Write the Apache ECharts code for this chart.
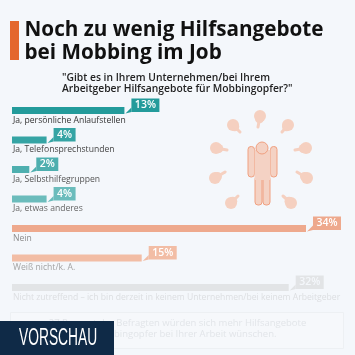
<!DOCTYPE html>
<html><head><meta charset="utf-8">
<style>html,body{margin:0;padding:0;background:#f4f7fb}#c{width:355px;height:355px}</style>
<script src="https://cdn.jsdelivr.net/npm/echarts@6/dist/echarts.min.js"></script>
</head><body><div id="c"></div>
<script>
const categories = ["Ja, persönliche Anlaufstellen","Ja, Telefonsprechstunden","Ja, Selbsthilfegruppen","Ja, etwas anderes","Nein","Weiß nicht/k. A.","Nicht zutreffend – ich bin derzeit in keinem Unternehmen/bei keinem Arbeitgeber"];
const values = [13,4,2,4,34,15,32];
const barColors = ["#239b9b","#35a4a4","#4eafaf","#6bbcbc","#eea98d","#f2bda5","#e2e4e6"];
const labelColors = ["#333333","#444444","#555555","#666666","#8c8c8c","#a3a3a3","#dcdee1"];
const valueTextColors = ["#ffffff","#ffffff","#ffffff","#ffffff","#ffffff","#ffffff","#f4f7fb"];
const titleLines = "Noch zu wenig Hilfsangebote\nbei Mobbing im Job";
const questionLines = '"Gibt es in Ihrem Unternehmen/bei Ihrem\nArbeitgeber Hilfsangebote für Mobbingopfer?"';
const noteLines = "27 Prozent der Befragten würden sich mehr Hilfsangebote\nfür Mobbingopfer bei Ihrer Arbeit wünschen.";
const previewText = "VORSCHAU";
const FONT = '"Open Sans", sans-serif';

const handParts = [[260,116,258,127],[233,125,240,132],[288,125,282,132],[216,148,227,150],[306,148,295,150],[215,178,225,172],[307,178,297,172],[231,203,238,196],[291,203,283,196]];
const graphics = [
  {type:'rect',shape:{x:10,y:21,width:9,height:39},style:{fill:'#e4672e'}},
  {type:'text',x:24.5,y:18.5,style:{text:titleLines,font:'700 20.7px '+FONT,lineHeight:23,fill:'#111'}},
  {type:'text',x:62,y:72.5,style:{text:questionLines,font:'600 10.3px '+FONT,lineHeight:11,fill:'#222'}},
  {type:'rect',shape:{x:10.5,y:312.5,width:333,height:36},style:{fill:'#f6f8fb',stroke:'#edf0f3',lineWidth:1}},
  {type:'text',x:177.5,y:318,style:{text:noteLines,font:'9.5px '+FONT,lineHeight:11,fill:'#e2e5e9',align:'center'}},
  {type:'rect',shape:{x:0,y:321,width:114,height:34},style:{fill:'#0f2a47'}},
  {type:'text',x:19,y:327,scaleX:0.6,style:{text:previewText,font:'23px "Liberation Sans",sans-serif',fill:'#fff'}}
];
handParts.forEach(h=>{
  const dx=h[2]-h[0], dy=h[3]-h[1];
  graphics.push({type:'circle',shape:{cx:h[0],cy:h[1],r:6},style:{fill:'#f5d0c0'}});
  graphics.push({type:'circle',shape:{cx:h[0]+dx*0.25,cy:h[1]+dy*0.25,r:4.5},style:{fill:'#f5d0c0'}});
  graphics.push({type:'line',shape:{x1:h[0],y1:h[1],x2:h[2],y2:h[3]},style:{stroke:'#f5d0c0',lineWidth:3,lineCap:'round'}});
});
const personStyle={fill:'#f4d2c4',stroke:'#f0a080',lineWidth:1};
[[248,146.5,6.5,30.5],[270.5,146.5,6.5,30.5],[255,176,7,29],[263,176,7,29]].forEach(r=>{
  graphics.push({type:'rect',shape:{x:r[0],y:r[1],width:r[2],height:r[3],r:3},style:personStyle});
});
graphics.push({type:'rect',shape:{x:254.5,y:150,width:16,height:30},style:{fill:'#f4d2c4'}});
graphics.push({type:'circle',shape:{cx:262,cy:148,r:6},style:personStyle});

const chart = echarts.init(document.getElementById('c'),null,{renderer:'canvas'});
chart.setOption({
  animation:false,
  backgroundColor:'#f4f7fb',
  graphic:{elements:graphics},
  grid:{left:12,top:95.75,width:294,height:206.5},
  xAxis:{type:'value',min:0,max:34,show:false},
  yAxis:{type:'category',inverse:true,data:categories,show:false},
  series:[
    {type:'bar',barWidth:7,data:values.map((v,i)=>({value:v,itemStyle:{color:barColors[i]}}))},
    {type:'custom',data:values.map((v,i)=>[v,i]),encode:{x:0,y:1},z:5,
     renderItem:(params,api)=>{
       const i=api.value(1), v=api.value(0);
       const p=api.coord([v,i]), o=api.coord([0,i]);
       const w=v>=10?28:22, L=p[0]+7, T=p[1]-12, B=p[1]+1.5;
       const c=barColors[i];
       return {type:'group',children:[
         {type:'rect',shape:{x:L,y:T,width:w,height:B-T},style:{fill:c}},
         {type:'polygon',shape:{points:[[L,p[1]-3],[L,B],[p[0]+1,p[1]+3]]},style:{fill:c}},
         {type:'text',x:L+w/2,y:(T+B)/2,style:{text:v+'%',font:'600 10.5px '+FONT,fill:valueTextColors[i],align:'center',verticalAlign:'middle'}},
         {type:'text',x:o[0]+1,y:p[1]+10,style:{text:categories[i],font:'8.6px '+FONT,fill:labelColors[i],align:'left',verticalAlign:'middle'}}
       ]};
     }}
  ]
});
</script></body></html>
